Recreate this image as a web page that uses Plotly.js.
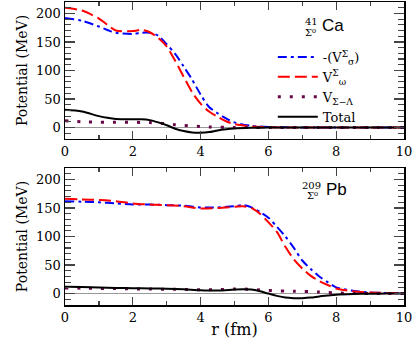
<!DOCTYPE html>
<html>
<head>
<meta charset="utf-8">
<script src="https://cdn.plot.ly/plotly-3.0.1.min.js"></script>
<style>
  body { margin: 0; background: white; }
  #chart { width: 415px; height: 339px; }
</style>
</head>
<body>
<div id="chart"></div>
<script>
// 41Ca panel (top)
var rCa = [0, 0.5, 1, 1.25, 1.5, 2, 2.25, 2.5, 2.75, 3, 3.25, 3.5, 3.75, 4, 4.25, 4.5, 4.75, 5, 5.5, 6, 7, 8, 9, 10];
var sigmaCa = [192, 187, 177, 171, 166, 164, 166, 166, 161, 146, 129, 107, 84, 58, 36, 25, 16, 9, 3, 1, 0, 0, 0, 0];
var omegaCa = [210, 205, 191, 180, 170, 169, 171, 167, 157, 142, 117, 89, 62, 42, 28, 19, 11, 6, 2, 0.5, 0, 0, 0, 0];
var sigLamCa = [12, 10, 9.5, 9.3, 9.2, 9.2, 9, 8.7, 7.8, 6.6, 5, 3.8, 2.6, 1.7, 1, 0.5, 0.3, 0.1, 0, 0, 0, 0, 0, 0];
var totalCa = [31, 28, 20, 17, 15, 14.5, 14.5, 13, 9, 4, -2, -6, -8.5, -9, -8, -5, -3, -1.7, -0.5, 0, 0, 0, 0, 0];

// 209Pb panel (bottom)
var rPb = [0, 0.5, 1, 1.5, 2, 2.5, 3, 3.5, 4, 4.5, 5, 5.25, 5.5, 5.75, 6, 6.25, 6.5, 6.75, 7, 7.25, 7.5, 7.75, 8, 8.5, 9, 9.5, 10];
var sigmaPb = [162, 161, 160, 158, 156, 156, 155, 154, 151, 151, 153, 155, 151, 143, 133, 117, 100, 80, 58, 43, 30, 20, 11, 5, 2, 1, 0.5];
var omegaPb = [166, 165, 164, 162, 158, 156, 155, 153, 149, 150, 152, 153, 150, 140, 125, 108, 82, 60, 44, 31, 22, 15, 9, 4, 2, 1, 0.5];
var sigLamPb = [10, 9.5, 9, 8.7, 8.3, 8, 7.7, 7.2, 6.5, 7, 8, 8, 7.5, 6.5, 5.5, 5, 4.5, 4, 3.7, 3.3, 2.8, 2, 1.2, 0.4, 0.1, 0, 0];
var totalPb = [12, 11.5, 10.5, 10, 9.5, 9, 8.5, 7.5, 6, 5.5, 7, 7.5, 7, 4, 0, -4, -7, -8, -8, -7, -5, -3.5, -2, -0.8, -0.3, 0, 0];

var seriesNames = ['-(V<sup>Σ</sup><sub>σ</sub>)', 'V<sup>Σ</sup><sub>ω</sub>', 'V<sub>Σ−Λ</sub>', 'Total'];
var seriesColors = ['#0000ff', '#ff0000', '#670748', '#000000'];
var seriesDash = ['9px,4px,3px,4px', '12px,5px', '3px,9px', 'solid'];
var seriesWidth = [2, 2, 3, 2];

var serif = 'DejaVu Serif, serif';

function makeTraces(r, cols, xa, ya, showLeg) {
  return cols.map(function(vals, i) {
    return {
      x: r,
      y: vals,
      xaxis: xa,
      yaxis: ya,
      mode: 'lines',
      name: seriesNames[i],
      showlegend: showLeg,
      line: {color: seriesColors[i], width: seriesWidth[i], dash: seriesDash[i], shape: 'spline', smoothing: 0.8},
      hoverinfo: 'skip'
    };
  });
}

var traces = makeTraces(rCa, [sigmaCa, omegaCa, sigLamCa, totalCa], 'x', 'y', true)
  .concat(makeTraces(rPb, [sigmaPb, omegaPb, sigLamPb, totalPb], 'x2', 'y2', false));

function xAxis(anchor, withTitle) {
  var ax = {
    anchor: anchor,
    range: [0, 10],
    dtick: 2,
    ticks: 'inside',
    ticklen: 8,
    tickwidth: 1.2,
    minor: {dtick: 1, ticks: 'inside', ticklen: 4, tickwidth: 1.2},
    showline: true,
    linewidth: 1.5,
    linecolor: 'black',
    mirror: 'allticks',
    showgrid: false,
    zeroline: false,
    tickfont: {family: serif, size: 13, color: 'black'}
  };
  if (withTitle) {
    ax.title = {text: 'r (fm)', font: {family: serif, size: 16, color: 'black'}, standoff: 3};
  }
  return ax;
}

function yAxis(anchor, domain) {
  return {
    anchor: anchor,
    domain: domain,
    range: [-20, 220],
    tick0: 0,
    dtick: 50,
    ticks: 'inside',
    ticklen: 10,
    tickwidth: 1.2,
    minor: {dtick: 10, ticks: 'inside', ticklen: 6, tickwidth: 1.2},
    showline: true,
    linewidth: 1.5,
    linecolor: 'black',
    mirror: 'allticks',
    showgrid: false,
    zeroline: true,
    zerolinecolor: '#999999',
    zerolinewidth: 1,
    tickfont: {family: serif, size: 13, color: 'black'},
    title: {text: 'Potential (MeV)', font: {family: serif, size: 14, color: 'black'}, standoff: 5}
  };
}

var smallFont = {family: serif, size: 10, color: 'black'};
var bigFont = {family: 'Liberation Sans, Arial, sans-serif', size: 17, color: 'black'};

function note(text, x, y, font) {
  return {text: text, xref: 'paper', yref: 'paper', x: x, y: y, xanchor: 'center', yanchor: 'middle', showarrow: false, font: font};
}

var layout = {
  width: 415,
  height: 339,
  margin: {l: 65, r: 11, t: 2, b: 34},
  paper_bgcolor: 'white',
  plot_bgcolor: 'white',
  xaxis: xAxis('y', false),
  yaxis: yAxis('x', [0.548, 1]),
  xaxis2: xAxis('y2', true),
  yaxis2: yAxis('x2', [0, 0.452]),
  showlegend: true,
  legend: {
    x: 0.613, y: 0.868, xanchor: 'left', yanchor: 'top',
    bgcolor: 'rgba(0,0,0,0)',
    font: {family: serif, size: 13, color: 'black'},
    itemwidth: 40,
    tracegroupgap: 0
  },
  annotations: [
    note('41', 0.726, 0.934, smallFont),
    note('Σ⁰', 0.723, 0.898, smallFont),
    note('Ca', 0.791, 0.921, bigFont),
    note('209', 0.726, 0.396, smallFont),
    note('Σ⁰', 0.729, 0.360, smallFont),
    note('Pb', 0.802, 0.380, bigFont)
  ]
};

Plotly.newPlot('chart', traces, layout, {displayModeBar: false, staticPlot: true});
</script>
</body>
</html>
